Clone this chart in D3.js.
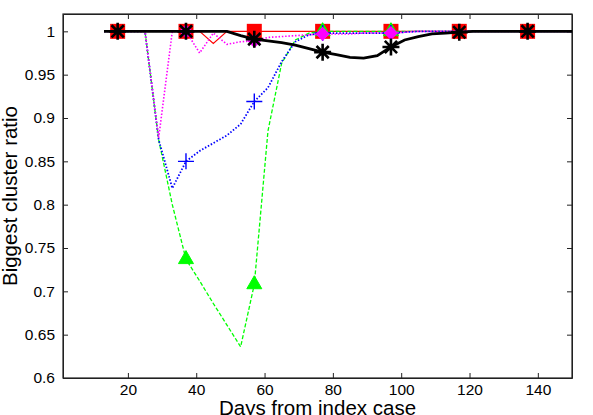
<!DOCTYPE html>
<html>
<head>
<meta charset="utf-8">
<script src="https://cdn.jsdelivr.net/npm/d3@7"></script>
<style>
  body { margin: 0; background: #fff; }
  text { font-family: "Liberation Sans", Arial, Helvetica, sans-serif; fill: #000; }
  .tick text { font-size: 15.5px; }
  .axis path, .axis line { stroke: #222; }
</style>
</head>
<body>
<div class="chart"></div>
<script>
var svgWidth = 593;
var svgHeight = 415;
var margin = { top: 14, right: 21, bottom: 37, left: 63 };
var width = svgWidth - margin.left - margin.right;
var height = svgHeight - margin.top - margin.bottom;

// days sampled every 4 days
var days = [13, 17, 21, 25, 29, 33, 37, 41, 45, 49, 53, 57, 61, 65, 69, 73, 77, 81,
  85, 89, 93, 97, 101, 105, 109, 113, 117, 121, 125, 129, 133, 137, 141, 145, 149, 153];

var redValues = [1, 1, 1, 1, 1, 1, 1, 1, 0.986, 1, 1, 1, 1, 1, 1, 1, 1, 1,
  1, 1, 1, 1, 1, 1, 1, 1, 1, 1, 1, 1, 1, 1, 1, 1, 1, 1];
var greenValues = [1, 1, 1, 1, 0.875, 0.80, 0.737, 0.712, 0.686, 0.661, 0.636, 0.708, 0.885, 0.963, 0.99, 0.998, 1, 1,
  1, 1, 1, 1, 1, 1, 1, 1, 1, 1, 1, 1, 1, 1, 1, 1, 1, 1];
var blueValues = [1, 1, 1, 1, 0.875, 0.819, 0.85, 0.862, 0.871, 0.88, 0.893, 0.919, 0.935, 0.965, 0.988, 0.996, 0.998, 0.998,
  0.998, 0.998, 0.998, 0.998, 0.999, 1, 1, 1, 1, 1, 1, 1, 1, 1, 1, 1, 1, 1];
var magentaValues = [1, 1, 1, 1, 0.877, 1, 1, 0.975, 0.998, 0.985, 0.988, 0.989, 0.993, 0.994, 0.995, 0.996, 0.997, 0.997,
  0.997, 0.998, 0.998, 0.998, 0.999, 1, 1, 1, 1, 1, 1, 1, 1, 1, 1, 1, 1, 1];
var blackValues = [1, 1, 1, 1, 1, 1, 1, 1, 1, 1, 0.995, 0.991, 0.989, 0.987, 0.984, 0.98, 0.976, 0.973,
  0.97, 0.969, 0.972, 0.982, 0.99, 0.994, 0.997, 0.998, 0.999, 1, 1, 1, 1, 1, 1, 1, 1, 1];

// days where each series shows a marker
var fullMarkerDays = [17, 37, 57, 77, 97, 117, 137];
var midMarkerDays = [37, 57, 77, 97];

var xTicks = [20, 40, 60, 80, 100, 120, 140];
var yTicks = [0.6, 0.65, 0.7, 0.75, 0.8, 0.85, 0.9, 0.95, 1];

var svg = d3.select(".chart")
  .append("svg")
  .attr("width", svgWidth)
  .attr("height", svgHeight)
  .append("g")
  .attr("transform", "translate(" + margin.left + "," + margin.top + ")");

var xScale = d3.scaleLinear().domain([1, 150]).range([0, width]);
var yScale = d3.scaleLinear().domain([0.6, 1.02]).range([height, 0]);

svg.append("clipPath").attr("id", "plotClip")
  .append("rect").attr("width", width).attr("height", height);

// axes with inward ticks, mirrored on top and right
svg.append("g").attr("class", "axis")
  .attr("transform", "translate(0," + height + ")")
  .call(d3.axisBottom(xScale).tickValues(xTicks).tickSizeInner(-5).tickSizeOuter(0).tickPadding(6));
svg.append("g").attr("class", "axis")
  .call(d3.axisTop(xScale).tickValues(xTicks).tickSizeInner(-5).tickSizeOuter(0).tickFormat(""));
svg.append("g").attr("class", "axis")
  .call(d3.axisLeft(yScale).tickValues(yTicks).tickSizeInner(-5).tickSizeOuter(0).tickPadding(8)
    .tickFormat(function(d) { return d3.format("")(+d.toFixed(2)); }));
svg.append("g").attr("class", "axis")
  .attr("transform", "translate(" + width + ",0)")
  .call(d3.axisRight(yScale).tickValues(yTicks).tickSizeInner(-5).tickSizeOuter(0).tickFormat(""));

svg.append("rect")
  .attr("width", width).attr("height", height)
  .attr("fill", "none").attr("stroke", "#222").attr("stroke-width", 1.2);

var plot = svg.append("g");

var line = d3.line()
  .x(function(d) { return xScale(d.day); })
  .y(function(d) { return yScale(d.value); });

function squarePath(s) { return d3.symbol(d3.symbolSquare, s * s)(); }
function trianglePath(s) { return d3.symbol(d3.symbolTriangle, Math.sqrt(3) / 4 * s * s)(); }
function plusPath(s) { var h = s / 2; return "M" + (-h) + ",0H" + h + "M0," + (-h) + "V" + h; }
function asteriskPath(s) {
  var h = s / 2, k = h * 0.72;
  return plusPath(s) + "M" + (-k) + "," + (-k) + "L" + k + "," + k + "M" + (-k) + "," + k + "L" + k + "," + (-k);
}

var series = [
  { values: redValues, color: "#ff0000", width: 1.1, dash: null, markers: fullMarkerDays,
    shape: squarePath(15), fill: "#ff0000", rotate: 0, mStroke: 0 },
  { values: greenValues, color: "#00ff00", width: 1.3, dash: "4,2", markers: midMarkerDays,
    shape: trianglePath(15), fill: "#00ff00", rotate: 0, mStroke: 1 },
  { values: blueValues, color: "#0000ff", width: 1.8, dash: "1.5,1.8", markers: midMarkerDays,
    shape: plusPath(16), fill: "none", rotate: 0, mStroke: 1.4 },
  { values: magentaValues, color: "#ff00ff", width: 1.6, dash: "1.5,1.8", markers: midMarkerDays,
    shape: squarePath(10), fill: "#ff00ff", rotate: 45, mStroke: 0 },
  { values: blackValues, color: "#000000", width: 2.8, dash: null, markers: fullMarkerDays,
    shape: asteriskPath(17), fill: "none", rotate: 0, mStroke: 2.6 }
];

series.forEach(function(s) {
  var points = days.map(function(d, i) { return { day: d, value: s.values[i] }; });

  plot.append("path")
    .datum(points)
    .attr("clip-path", "url(#plotClip)")
    .attr("fill", "none")
    .attr("stroke", s.color)
    .attr("stroke-width", s.width)
    .attr("stroke-dasharray", s.dash)
    .attr("d", line);

  plot.selectAll(null)
    .data(points.filter(function(p) { return s.markers.indexOf(p.day) >= 0; }))
    .enter().append("path")
      .attr("transform", function(p) {
        return "translate(" + xScale(p.day) + "," + yScale(p.value) + ") rotate(" + s.rotate + ")";
      })
      .attr("d", s.shape)
      .attr("fill", s.fill)
      .attr("stroke", s.mStroke ? s.color : "none")
      .attr("stroke-width", s.mStroke);
});

// axis labels
svg.append("text")
  .attr("transform", "rotate(-90)")
  .attr("x", 0 - height / 2)
  .attr("y", 0 - margin.left + 17)
  .attr("text-anchor", "middle")
  .style("font-size", "20.5px")
  .text("Biggest cluster ratio");

svg.append("text")
  .attr("x", width / 2)
  .attr("y", height + 36.5)
  .attr("text-anchor", "middle")
  .style("font-size", "20.5px")
  .text("Days from index case");
</script>
</body>
</html>
